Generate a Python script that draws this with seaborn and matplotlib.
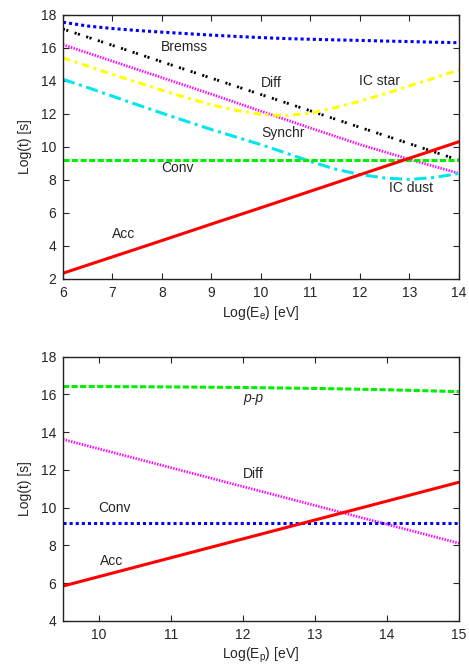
import matplotlib
matplotlib.use("Agg")
import matplotlib.pyplot as plt
import seaborn as sns

sns.set_style("ticks")
plt.rcParams["font.family"] = ["Liberation Sans", "DejaVu Sans"]
plt.rcParams["mathtext.fontset"] = "custom"
plt.rcParams["mathtext.rm"] = "Liberation Sans"
plt.rcParams["mathtext.it"] = "Liberation Sans:italic"
plt.rcParams["font.size"] = 10

# ====================================
# DATA - ELECTRONS (top panel)
# ====================================

e_x = [6, 7, 8, 9, 10, 11, 12, 13, 14]
e_acc = [2.35, 3.34, 4.33, 5.33, 6.32, 7.32, 8.32, 9.32, 10.32]
e_conv = [9.2, 9.2, 9.2, 9.2, 9.2, 9.2, 9.2, 9.2, 9.2]
e_diff = [17.15, 16.16, 15.16, 14.17, 13.18, 12.19, 11.19, 10.2, 9.2]
e_synch = [16.2, 15.2, 14.2, 13.2, 12.17, 11.15, 10.15, 9.25, 8.4]

e_x_fine = [6, 6.5, 7, 7.5, 8, 8.5, 9, 9.5, 10, 10.5, 11, 11.5, 12,
            12.5, 13, 13.5, 14]
e_brems = [17.56, 17.33, 17.18, 17.06, 16.96, 16.87, 16.78, 16.7, 16.63,
           16.57, 16.53, 16.49, 16.46, 16.42, 16.39, 16.35, 16.32]
e_icstar = [15.4, 14.9, 14.4, 13.92, 13.44, 12.98, 12.55, 12.22, 11.98,
            11.9, 12.05, 12.38, 12.78, 13.22, 13.7, 14.18, 14.67]
e_icdust = [14.1, 13.6, 13.08, 12.56, 12.05, 11.55, 11.06, 10.6, 10.14,
            9.64, 9.12, 8.66, 8.33, 8.12, 8.03, 8.15, 8.4]

# ====================================
# DATA - PROTONS (bottom panel)
# ====================================

p_x = [9.5, 10, 11, 12, 13, 14, 15]
p_acc = [5.85, 6.35, 7.35, 8.35, 9.35, 10.35, 11.35]
p_conv = [9.2, 9.2, 9.2, 9.2, 9.2, 9.2, 9.2]
p_pp = [16.42, 16.42, 16.40, 16.37, 16.32, 16.25, 16.15]
p_diff = [13.62, 13.12, 12.12, 11.12, 10.12, 9.12, 8.12]

# ====================================
# FIGURE
# ====================================

fig = plt.figure(figsize=(4.69, 6.66), dpi=100)
ax1 = fig.add_axes([0.1343, 0.5811, 0.8443, 0.3964])
ax2 = fig.add_axes([0.1343, 0.0676, 0.8443, 0.3968])


def style_axis(ax):
    for s in ax.spines.values():
        s.set_linewidth(1.0)
        s.set_color("#222222")
    ax.tick_params(direction="in", length=4, width=0.8, top=True, right=True,
                   labelsize=10, pad=5)


def draw(ax, x, y, color, lw, dashes=None):
    sns.lineplot(x=x, y=y, ax=ax, color=color, lw=lw, estimator=None)
    if dashes is not None:
        ax.lines[-1].set_dashes(dashes)


# top panel
draw(ax1, e_x_fine, e_brems, "#0000ff", 2.2, (1, 1))
draw(ax1, e_x, e_diff, "black", 2.0, (0.75, 0.5, 0.75, 2.4))
draw(ax1, e_x, e_synch, "#ff00ff", 2.0, (0.5, 0.5))
draw(ax1, e_x_fine, e_icstar, "#ffff00", 2.2, (2.5, 1.5, 1, 1.5))
draw(ax1, e_x_fine, e_icdust, "#00e5ee", 2.2, (4, 1.5, 1, 1.5))
draw(ax1, e_x, e_conv, "#00ee00", 2.2, (2, 0.8))
draw(ax1, e_x, e_acc, "#ff0000", 2.2)

ax1.set_xlim(6, 14)
ax1.set_ylim(2, 18)
ax1.set_xticks(range(6, 15))
ax1.set_yticks(range(2, 19, 2))
ax1.set_xlabel(r"Log(E$_\mathregular{e}$) [eV]", fontsize=10, labelpad=3)
ax1.set_ylabel("Log(t) [s]", fontsize=10, labelpad=6)
style_axis(ax1)

ax1.text(8.46, 16.04, "Bremss", ha="center", va="center", fontsize=10)
ax1.text(10.2, 13.86, "Diff", ha="center", va="center", fontsize=10)
ax1.text(12.4, 14.0, "IC star", ha="center", va="center", fontsize=10)
ax1.text(10.44, 10.83, "Synchr", ha="center", va="center", fontsize=10)
ax1.text(8.32, 8.71, "Conv", ha="center", va="center", fontsize=10)
ax1.text(13.04, 7.5, "IC dust", ha="center", va="center", fontsize=10)
ax1.text(7.23, 4.71, "Acc", ha="center", va="center", fontsize=10)

# bottom panel
draw(ax2, p_x, p_pp, "#00ee00", 2.2, (2, 0.8))
draw(ax2, p_x, p_diff, "#ff00ff", 2.0, (0.5, 0.5))
draw(ax2, p_x, p_conv, "#0000ff", 2.2, (1, 1))
draw(ax2, p_x, p_acc, "#ff0000", 2.2)

ax2.set_xlim(9.5, 15)
ax2.set_ylim(4, 18)
ax2.set_xticks(range(10, 16))
ax2.set_yticks(range(4, 19, 2))
ax2.set_xlabel(r"Log(E$_\mathregular{p}$) [eV]", fontsize=10, labelpad=3)
ax2.set_ylabel("Log(t) [s]", fontsize=10, labelpad=6)
style_axis(ax2)

ax2.text(12.14, 15.8, "p-p", ha="center", va="center", fontsize=10, style="italic")
ax2.text(12.14, 11.79, "Diff", ha="center", va="center", fontsize=10)
ax2.text(10.22, 9.97, "Conv", ha="center", va="center", fontsize=10)
ax2.text(10.17, 7.2, "Acc", ha="center", va="center", fontsize=10)

fig.savefig("out.png", dpi=100)
plt.close(fig)
